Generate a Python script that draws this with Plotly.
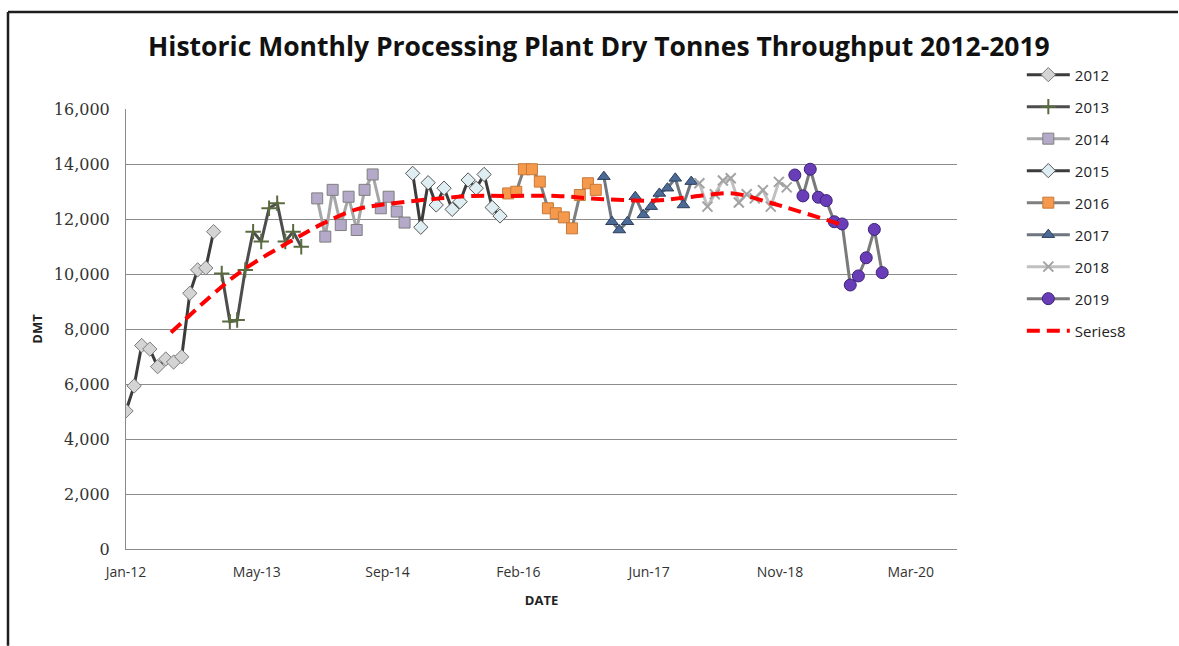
import plotly.graph_objects as go

# Monthly processing plant throughput (dry metric tonnes), one list per year
months = ["01", "02", "03", "04", "05", "06", "07", "08", "09", "10", "11", "12"]

dmt_2012 = [5020, 5930, 7400, 7270, 6630, 6910, 6800, 6990, 9300, 10150, 10220, 11540]
dmt_2013 = [10020, 8270, 8330, 10150, 11540, 11180, 12390, 12570, 11180, 11540, 10990]
dmt_2014 = [12750, 11360, 13060, 11780, 12810, 11600, 13060, 13620, 12390, 12810, 12270, 11870]
dmt_2015 = [13660, 11700, 13320, 12510, 13120, 12350, 12630, 13420, 13120, 13620, 12420, 12110]
dmt_2016 = [12930, 12990, 13810, 13810, 13360, 12390, 12210, 12060, 11660, 12870, 13300, 13060]
dmt_2017 = [13540, 11900, 11600, 11900, 12810, 12150, 12450, 12930, 13120, 13480, 12510, 13360]
dmt_2018 = [13300, 12450, 12900, 13400, 13480, 12600, 12900, 12750, 13050, 12450, 13350, 13150]
dmt_2019 = [13600, 12840, 13810, 12790, 12670, 11900, 11820, 9600, 9930, 10590, 11620, 10050]

# Trend line (Series8)
trend_dates = ["2012-06-21", "2012-12-15", "2013-03-24", "2013-09-19", "2014-01-24",
               "2014-05-31", "2014-08-29", "2014-12-09", "2015-04-15", "2015-08-20",
               "2015-12-26", "2016-07-04", "2016-11-08", "2017-03-15", "2017-07-21",
               "2017-11-25", "2018-05-10", "2018-09-14", "2019-01-20", "2019-07-04"]
trend_vals = [7870, 9400, 10150, 11180, 11840, 12350, 12510, 12630, 12750, 12840,
              12840, 12840, 12750, 12690, 12670, 12800, 12930, 12630, 12270, 11780]

# Date-axis ticks every 500 days
tick_dates = ["2012-01-01", "2013-05-15", "2014-09-27", "2016-02-09",
              "2017-06-23", "2018-11-05", "2020-03-19"]
tick_text = ["Jan-12", "May-13", "Sep-14", "Feb-16", "Jun-17", "Nov-18", "Mar-20"]


def month_dates(year, n):
    return [f"{year}-{m}-01" for m in months[:n]]


series = [
    ("2012", dmt_2012, dict(color="#3c3c3c", width=3),
     dict(symbol="diamond", size=11, color="#d4d4d4", line=dict(color="#7a7a7a", width=1))),
    ("2013", dmt_2013, dict(color="#4d4d4d", width=3),
     dict(symbol="cross-thin", size=11, color="#5b6b40", line=dict(color="#5b6b40", width=2))),
    ("2014", dmt_2014, dict(color="#a6a6a6", width=3),
     dict(symbol="square", size=11, color="#b4a9c9", line=dict(color="#7f7f7f", width=1))),
    ("2015", dmt_2015, dict(color="#3c3c3c", width=3),
     dict(symbol="diamond", size=11, color="#dfeef3", line=dict(color="#555555", width=1))),
    ("2016", dmt_2016, dict(color="#7f7f7f", width=3),
     dict(symbol="square", size=11, color="#f59a4c", line=dict(color="#c8793a", width=1))),
    ("2017", dmt_2017, dict(color="#6f7680", width=3),
     dict(symbol="triangle-up", size=11, color="#4c6a96", line=dict(color="#2c3e5c", width=1))),
    ("2018", dmt_2018, dict(color="#c0c0c0", width=3),
     dict(symbol="x-thin", size=10, color="#a3a3a3", line=dict(color="#a3a3a3", width=2))),
    ("2019", dmt_2019, dict(color="#7a7a7a", width=3),
     dict(symbol="circle", size=12, color="#6a3db8", line=dict(color="#3d2378", width=1))),
]

fig = go.Figure()
for name, vals, line, marker in series:
    fig.add_trace(go.Scatter(
        x=month_dates(int(name), len(vals)), y=vals, name=name,
        mode="lines+markers", line=line, marker=marker, legendgroup=name,
    ))

fig.add_trace(go.Scatter(
    x=trend_dates, y=trend_vals, name="Series8", mode="lines",
    line=dict(color="#ff0000", width=4, dash="13px,7px", shape="spline"),
    legendgroup="Series8",
))

# Outer chart frame: top and left edges, kept inside the page
frame = dict(color="#1e1e1e", width=2.5)
fig.add_shape(type="line", xref="paper", yref="paper",
              x0=-0.142, x1=1.266, y0=1.2205, y1=1.2205, line=frame, layer="below")
fig.add_shape(type="line", xref="paper", yref="paper",
              x0=-0.142, x1=-0.142, y0=-0.22, y1=1.2205, line=frame, layer="below")

fig.update_layout(
    width=1179, height=646,
    margin=dict(l=126, r=222, t=109, b=97),
    paper_bgcolor="white", plot_bgcolor="white",
    title=dict(text="<b>Historic Monthly Processing Plant Dry Tonnes Throughput 2012-2019</b>",
               x=0.508, xanchor="center", y=1 - 47 / 646, yanchor="middle", yref="container",
               font=dict(family="Open Sans", size=26.5, color="#111111")),
    legend=dict(x=1.078, y=1.115, xanchor="left", yanchor="top",
                bgcolor="white", tracegroupgap=9.5, itemwidth=43,
                font=dict(family="Open Sans", size=15, color="#222222")),
    font=dict(family="Open Sans", color="#333333"),
)

fig.update_xaxes(
    type="date", range=["2012-01-01", "2020-09-12"],
    tickvals=tick_dates, ticktext=tick_text,
    tickfont=dict(family="Open Sans", size=14, color="#333333"),
    ticklabelstandoff=10,
    showgrid=False, showline=True, linecolor="#8a8a8a", linewidth=1,
    zeroline=False,
    title=dict(text="<b>DATE</b>", font=dict(family="Open Sans", size=13, color="#222222"),
               standoff=16),
)
fig.update_yaxes(
    range=[0, 16000], tickvals=[0, 2000, 4000, 6000, 8000, 10000, 12000, 14000, 16000],
    tickformat=",d",
    tickfont=dict(family="DejaVu Serif", size=16, color="#333333"),
    ticklabelstandoff=12,
    showgrid=True, gridcolor="#8c8c8c", gridwidth=1,
    showline=True, linecolor="#8a8a8a", linewidth=1, zeroline=False,
    title=dict(text="<b>DMT</b>", font=dict(family="Open Sans", size=13, color="#222222"),
               standoff=8),
)

fig.write_html("out.html")
